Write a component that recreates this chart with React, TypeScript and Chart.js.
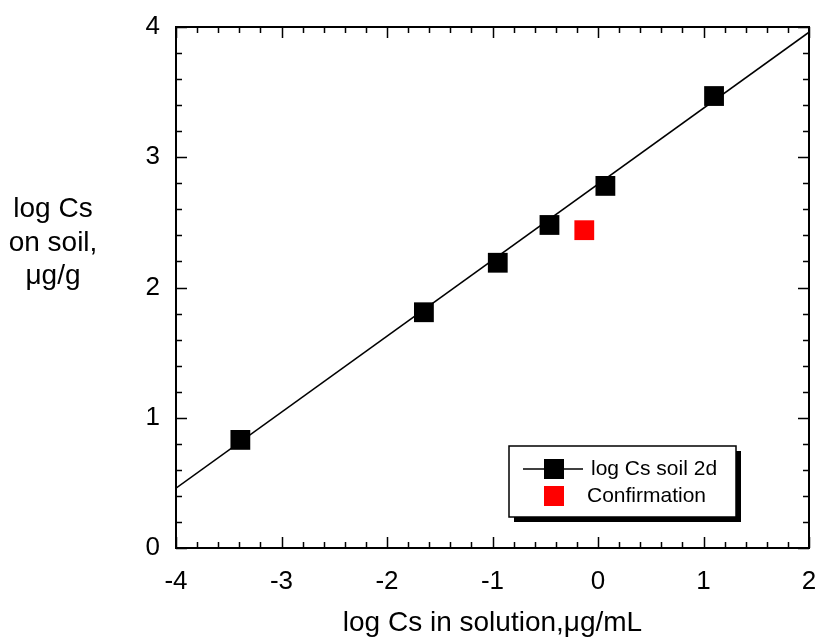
import React, { useEffect, useRef } from "react";
import { Chart, registerables } from "chart.js";

Chart.register(...registerables);

// Sorption isotherm: log Cs on soil vs log Cs in solution
const soilX = [-3.39, -1.65, -0.95, -0.46, 0.07, 1.1];
const soilY = [0.83, 1.81, 2.19, 2.48, 2.78, 3.47];
const confirmX = [-0.13];
const confirmY = [2.44];
// regression line end points
const fitX = [-4, 2];
const fitY = [0.46, 3.96];

const xTicks = [-4, -3, -2, -1, 0, 1, 2];
const yTicks = [0, 1, 2, 3, 4];
const minorPerMajor = 5;

const xTitle = "log Cs in solution,\u03bcg/mL";
const yTitleLines = ["log Cs", "on soil,", "\u03bcg/g"];
const soilLabel = "log Cs soil 2d";
const confirmLabel = "Confirmation";

const FONT = "'Liberation Sans', Arial, Helvetica, sans-serif";

const framePlugin = {
  id: "frameTicks",
  afterDraw(chart: any) {
    const ctx = chart.ctx as CanvasRenderingContext2D;
    const { left, right, top, bottom } = chart.chartArea;
    const xs = chart.scales.x;
    const ys = chart.scales.y;
    ctx.save();
    ctx.strokeStyle = "#000";
    ctx.lineWidth = 1.5;

    // inward tick marks on all four sides
    const major = 11;
    const minor = 6;
    for (let i = 0; i < xTicks.length; i++) {
      for (let k = 0; k < minorPerMajor; k++) {
        if (i === xTicks.length - 1 && k > 0) break;
        const v = xTicks[i] + (k * (xTicks[1] - xTicks[0])) / minorPerMajor;
        const px = Math.round(xs.getPixelForValue(v)) + 0.5;
        const len = k === 0 ? major : minor;
        ctx.beginPath();
        ctx.moveTo(px, bottom);
        ctx.lineTo(px, bottom - len);
        ctx.moveTo(px, top);
        ctx.lineTo(px, top + len);
        ctx.stroke();
      }
    }
    for (let i = 0; i < yTicks.length; i++) {
      for (let k = 0; k < minorPerMajor; k++) {
        if (i === yTicks.length - 1 && k > 0) break;
        const v = yTicks[i] + (k * (yTicks[1] - yTicks[0])) / minorPerMajor;
        const py = Math.round(ys.getPixelForValue(v)) + 0.5;
        const len = k === 0 ? major : minor;
        ctx.beginPath();
        ctx.moveTo(left, py);
        ctx.lineTo(left + len, py);
        ctx.moveTo(right, py);
        ctx.lineTo(right - len, py);
        ctx.stroke();
      }
    }

    // frame
    ctx.lineWidth = 2;
    ctx.strokeRect(left, top, right - left, bottom - top);

    // axis titles
    ctx.fillStyle = "#000";
    ctx.font = `28px ${FONT}`;
    ctx.textAlign = "center";
    ctx.textBaseline = "alphabetic";
    ctx.fillText(xTitle, (left + right) / 2, 631);
    const yBase = [217, 251, 284];
    yTitleLines.forEach((t, i) => ctx.fillText(t, 53, yBase[i]));

    // legend with drop shadow
    const lx = 509, ly = 446, lw = 227, lh = 71;
    ctx.fillStyle = "#000";
    ctx.fillRect(lx + 5, ly + 5, lw, lh);
    ctx.fillStyle = "#fff";
    ctx.fillRect(lx, ly, lw, lh);
    ctx.lineWidth = 1.5;
    ctx.strokeStyle = "#000";
    ctx.strokeRect(lx, ly, lw, lh);

    const ds = chart.data.datasets;
    const row1 = 469, row2 = 496, mx = 554, side = 20;
    ctx.beginPath();
    ctx.moveTo(523, row1);
    ctx.lineTo(583, row1);
    ctx.stroke();
    ctx.fillStyle = ds[0].pointBackgroundColor;
    ctx.fillRect(mx - side / 2, row1 - side / 2, side, side);
    ctx.fillStyle = ds[2].pointBackgroundColor;
    ctx.fillRect(mx - side / 2, row2 - side / 2, side, side);
    ctx.fillStyle = "#000";
    ctx.font = `21px ${FONT}`;
    ctx.textAlign = "left";
    ctx.textBaseline = "middle";
    ctx.fillText(ds[0].label, 591, row1);
    ctx.fillText(ds[2].label, 587, row2);
    ctx.restore();
  },
};

export default function App() {
  const canvasRef = useRef<HTMLCanvasElement | null>(null);

  useEffect(() => {
    if (!canvasRef.current) return;
    const chart = new Chart(canvasRef.current, {
      type: "scatter",
      data: {
        datasets: [
          {
            label: soilLabel,
            data: soilX.map((x, i) => ({ x, y: soilY[i] })),
            pointStyle: "rect",
            pointRadius: 14,
            pointBorderWidth: 0,
            pointBackgroundColor: "#000000",
            borderColor: "#000000",
            showLine: false,
            order: 0,
          },
          {
            label: "fit",
            data: fitX.map((x, i) => ({ x, y: fitY[i] })),
            showLine: true,
            borderColor: "#000000",
            borderWidth: 1.5,
            pointRadius: 0,
            order: 2,
          },
          {
            label: confirmLabel,
            data: confirmX.map((x, i) => ({ x, y: confirmY[i] })),
            pointStyle: "rect",
            pointRadius: 14,
            pointBorderWidth: 0,
            pointBackgroundColor: "#ff0000",
            borderColor: "#ff0000",
            showLine: false,
            order: 1,
          },
        ],
      },
      options: {
        animation: false,
        responsive: true,
        maintainAspectRatio: false,
        layout: { padding: { top: 27, right: 12, left: 0, bottom: 0 } },
        plugins: { legend: { display: false }, tooltip: { enabled: false } },
        scales: {
          x: {
            type: "linear",
            min: xTicks[0],
            max: xTicks[xTicks.length - 1],
            afterBuildTicks: (s: any) => {
              s.ticks = xTicks.map((v) => ({ value: v }));
            },
            afterFit: (s: any) => {
              s.height = 89;
              s.paddingLeft = 0;
              s.paddingRight = 0;
              s.paddingTop = 0;
              s.paddingBottom = 0;
            },
            grid: { display: false, drawTicks: false },
            border: { display: false },
            ticks: {
              color: "#000",
              font: { family: FONT, size: 26 },
              padding: 18,
              maxRotation: 0,
              autoSkip: false,
            },
          },
          y: {
            type: "linear",
            min: yTicks[0],
            max: yTicks[yTicks.length - 1],
            afterBuildTicks: (s: any) => {
              s.ticks = yTicks.map((v) => ({ value: v }));
            },
            afterFit: (s: any) => {
              s.width = 176;
              s.paddingLeft = 0;
              s.paddingRight = 0;
              s.paddingTop = 0;
              s.paddingBottom = 0;
            },
            grid: { display: false, drawTicks: false },
            border: { display: false },
            ticks: {
              color: "#000",
              font: { family: FONT, size: 26 },
              padding: 16,
              autoSkip: false,
            },
          },
        },
      },
      plugins: [framePlugin],
    });
    return () => chart.destroy();
  }, []);

  return (
    <div
      style={{
        position: "fixed",
        left: 0,
        top: 0,
        width: 823,
        height: 637,
        background: "#fff",
      }}
    >
      <canvas ref={canvasRef} />
    </div>
  );
}
